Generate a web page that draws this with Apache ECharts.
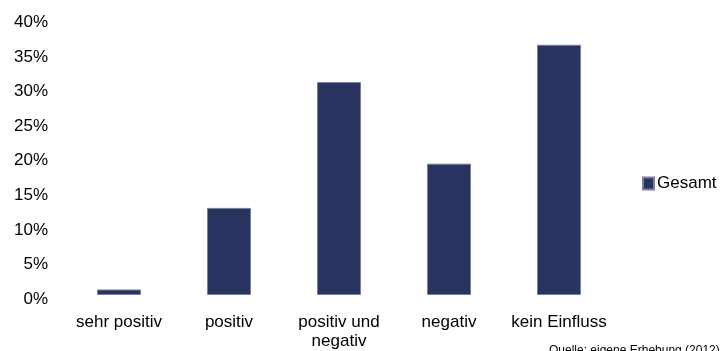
<!DOCTYPE html>
<html>
<head>
<meta charset="utf-8">
<script src="https://cdn.jsdelivr.net/npm/echarts@6/dist/echarts.min.js"></script>
<style>
  html, body { margin: 0; padding: 0; background: #fff; }
  #chart { width: 724px; height: 351px; }
</style>
</head>
<body>
<div id="chart"></div>
<script>
// Einfluss-Kategorien und Anteile (in %)
const categories = ['sehr positiv', 'positiv', 'positiv und\nnegativ', 'negativ', 'kein Einfluss'];
const seriesName = 'Gesamt';
const gesamt = [0.8, 12.6, 30.8, 19.0, 36.2];
const yTicks = { min: 0, max: 40, interval: 5 };
const sourceNote = 'Quelle: eigene Erhebung (2012)';

const font = 'Liberation Sans, Arial, sans-serif';
const chart = echarts.init(document.getElementById('chart'));

chart.setOption({
  animation: false,
  grid: { left: 64, right: 110, top: 18.5, bottom: 56 },
  legend: {
    data: [seriesName],
    orient: 'vertical',
    left: 637,
    top: 170,
    itemWidth: 11,
    itemHeight: 12,
    itemGap: 4,
    icon: 'rect',
    textStyle: { fontFamily: font, fontSize: 17, color: '#000', padding: [0, 0, 0, -2] }
  },
  xAxis: {
    type: 'category',
    data: categories,
    axisLine: { show: false },
    axisTick: { show: false },
    axisLabel: {
      fontFamily: font, fontSize: 17, color: '#000',
      margin: 18, lineHeight: 19, interval: 0
    }
  },
  yAxis: {
    type: 'value',
    min: yTicks.min,
    max: yTicks.max,
    interval: yTicks.interval,
    splitLine: { show: false },
    axisLine: { show: false },
    axisTick: { show: false },
    axisLabel: {
      fontFamily: font, fontSize: 17, color: '#000',
      margin: 16,
      verticalAlign: 'top',
      lineHeight: 8,
      formatter: v => v + '%'
    }
  },
  series: [{
    name: seriesName,
    type: 'bar',
    data: gesamt,
    barWidth: 44,
    itemStyle: { color: '#29335f', borderColor: '#7a809c', borderWidth: 1 }
  }],
  graphic: [{
    type: 'text',
    left: 549,
    top: 345,
    style: { text: sourceNote, fontFamily: font, fontSize: 12, fill: '#000' }
  }]
});
</script>
</body>
</html>
